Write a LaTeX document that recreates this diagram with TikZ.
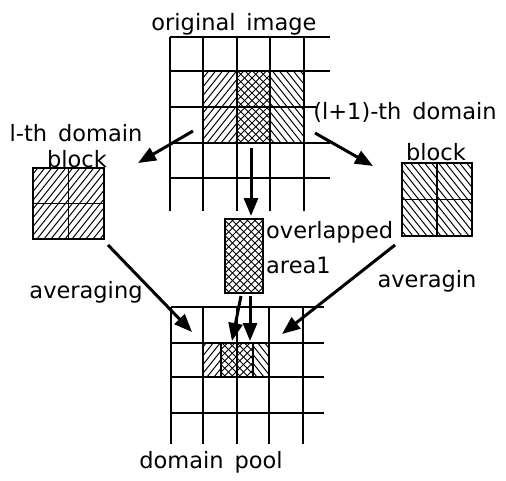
\documentclass[tikz,border=0pt]{standalone}
\usepackage{fontspec}
\setmainfont{DejaVu Sans}
\usetikzlibrary{arrows.meta}
\begin{document}
\begin{tikzpicture}[x=1pt,y=-1pt,
  gridline/.style={line width=1.5pt,black},
  hl/.style={line width=1pt,black},
  arr/.style={line width=3pt,-{Triangle[length=18pt,width=14pt]}},
  lbl/.style={inner sep=0pt,font=\fontsize{22.5}{27}\selectfont},
  ne/.style={path picture={\foreach \k in {-80,-73,...,80}
      \draw[hl] ([xshift=\k pt]path picture bounding box.south west) -- ++(120pt,150pt);}},
  nw/.style={path picture={\foreach \k in {-10,-3,...,150}
      \draw[hl] ([xshift=\k pt]path picture bounding box.south west) -- ++(-120pt,150pt);}},
  xh/.style={path picture={\foreach \k in {-80,-72.5,...,80}
      \draw[hl] ([xshift=\k pt]path picture bounding box.south west) -- ++(120pt,120pt);
      \foreach \k in {-10,-2.5,...,150}
      \draw[hl] ([xshift=\k pt]path picture bounding box.south west) -- ++(-120pt,120pt);}},
  boxnode/.style={draw,line width=1.5pt,inner sep=0pt,minimum width=#1}
]
\useasboundingbox (0,0) rectangle (506,480);

% ---------- top grid (original image) ----------
\path[ne] (203,71) rectangle (237,143);
\path[xh] (237,71) rectangle (270,143);
\path[nw] (270,71) rectangle (304,143);
\foreach \y in {37,71,143,178} \draw[gridline] (170,\y) -- (330,\y);
\draw[gridline] (170,107) -- (316,107);
\foreach \x in {170,203,237,270,304} \draw[gridline] (\x,37) -- (\x,211);

% ---------- bottom grid (domain pool) ----------
\path[ne] (203,343) rectangle (221,377);
\path[xh] (221,343) rectangle (253,377);
\path[nw] (253,343) rectangle (269,377);
\draw[gridline] (221,343) -- (221,377) (253,343) -- (253,377);
\foreach \y in {307,343,377,413} \draw[gridline] (171,\y) -- (324,\y);
\foreach \x in {171,203,237,269,303} \draw[gridline] (\x,307) -- (\x,444);

% ---------- blocks ----------
\node[boxnode=71pt,minimum height=71pt,ne] (lblock) at (68.5,203.5) {};
\draw[gridline] (lblock.north) -- (lblock.south) (lblock.west) -- (lblock.east);
\node[boxnode=70pt,minimum height=73pt,nw] (rblock) at (437,199.5) {};
\draw[gridline] (rblock.north) -- (rblock.south) (rblock.west) -- (rblock.east);
\node[boxnode=38pt,minimum height=74pt,xh] (ovl) at (244,256) {};

% ---------- labels ----------
\node[lbl,anchor=base] (orig) at (234,30) {original\, image};
\node[lbl,anchor=base] (lt1) at (76,141) {l-th\, domain};
\node[lbl,anchor=base] (lt2) at (77,167) {block};
\node[lbl,anchor=base] (rt1) at (405,119) {(l+1)-th\, domain};
\node[lbl,anchor=base] (rt2) at (436,160) {block};
\node[lbl,anchor=base west] (ov1) at (266,238) {overlapped};
\node[lbl,anchor=base west] (ov2) at (266,273) {area1};
\node[lbl,anchor=base] (av1) at (86,298) {averaging};
\node[lbl,anchor=base] (av2) at (427,287) {averagin};
\node[lbl,anchor=base] (pool) at (211,468) {domain\, pool};

% ---------- arrow end points ----------
\coordinate (a1s) at (193,131); \coordinate (a1e) at (138,163);
\coordinate (a2s) at (315,133); \coordinate (a2e) at (373,166);
\coordinate (a3s) at (251,148); \coordinate (a3e) at (251,216);
\coordinate (a4s) at (108,245); \coordinate (a4e) at (192,332);
\coordinate (a5s) at (395,245); \coordinate (a5e) at (282,334);
\coordinate (a6s) at (241,296); \coordinate (a6e) at (232,341);
\coordinate (a7s) at (250,296); \coordinate (a7e) at (250,341);

\draw[arr] (a1s) -- (a1e);
\draw[arr] (a2s) -- (a2e);
\draw[arr] (a3s) -- (a3e);
\draw[arr] (a4s) -- (a4e);
\draw[arr] (a5s) -- (a5e);
\draw[arr] (a6s) -- (a6e);
\draw[arr] (a7s) -- (a7e);
\end{tikzpicture}
\end{document}
